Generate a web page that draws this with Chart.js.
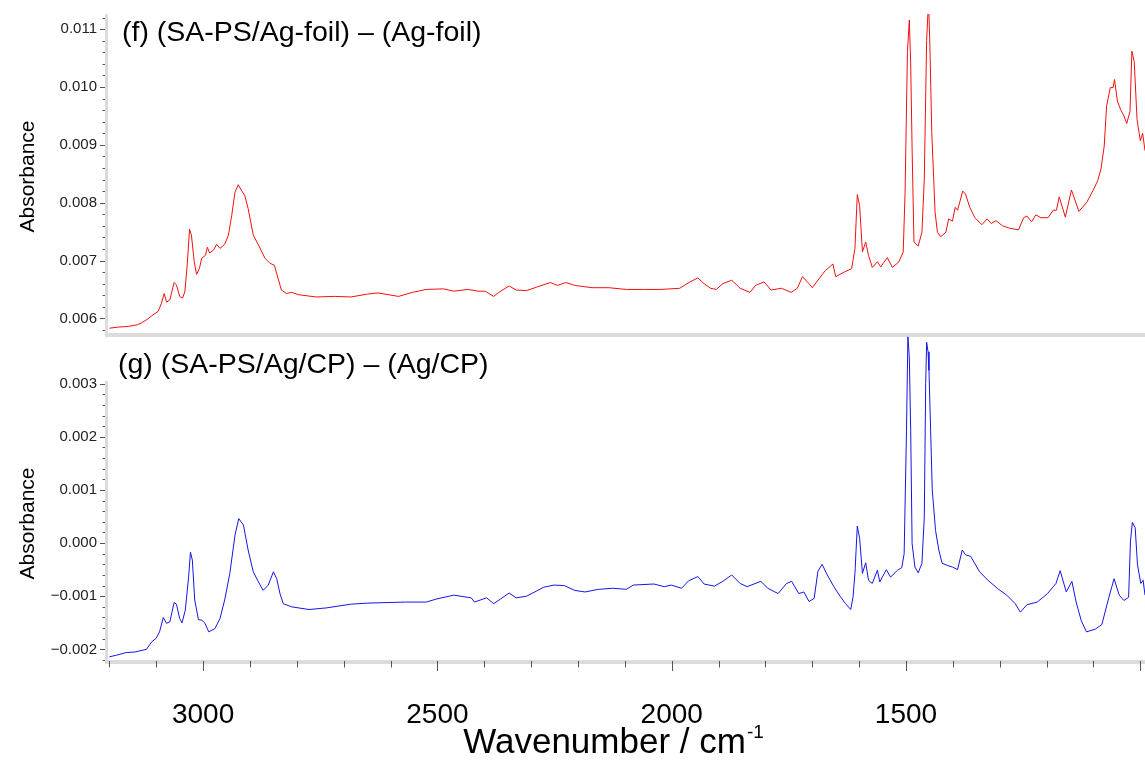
<!DOCTYPE html>
<html><head><meta charset="utf-8">
<script src="https://cdn.jsdelivr.net/npm/chart.js@4.4.1/dist/chart.umd.min.js"></script>
<style>
html,body{margin:0;padding:0;background:#fff;}
#wrap{position:relative;width:1145px;height:764px;overflow:hidden;background:#fff;}
canvas{position:absolute;left:0;}
#cTop{top:0;}
#cBot{top:335px;}
</style></head><body>
<div id="wrap"><canvas id="cTop" width="1145" height="338"></canvas><canvas id="cBot" width="1145" height="429"></canvas></div>
<script>
// ---- data: (f) (SA-PS/Ag-foil) - (Ag-foil)
const wavenumberF = [3200,3180,3160,3140,3132,3120,3107,3096,3089,3083,3078,3071,3062,3057,3050,3044,3039,3034,3029,3025,3019,3014,3008,3003,2995,2991,2986,2978,2971,2964,2954,2946,2939,2932,2925,2918,2911,2904,2893,2882,2868,2857,2848,2840,2833,2822,2811,2797,2759,2720,2685,2649,2627,2583,2553,2524,2487,2465,2435,2413,2398,2380,2369,2347,2332,2310,2288,2259,2244,2226,2207,2170,2134,2097,2060,2023,1983,1961,1944,1931,1917,1905,1891,1872,1854,1833,1821,1803,1788,1766,1745,1732,1721,1707,1700,1685,1673,1656,1650,1632,1616,1609,1604,1599,1593,1586,1580,1572,1561,1554,1540,1529,1515,1506,1502,1497,1493,1490,1487,1483,1474,1466,1461,1456,1452,1449,1445,1438,1433,1426,1415,1409,1401,1395,1390,1379,1373,1364,1353,1338,1327,1318,1308,1294,1279,1260,1249,1242,1232,1223,1212,1197,1186,1179,1173,1160,1147,1131,1114,1101,1091,1084,1077,1072,1064,1058,1055,1049,1042,1035,1029,1022,1018,1013,1007,1000,995,990];
const absorbanceF = [0.00583,0.00585,0.00586,0.00589,0.00592,0.00598,0.00606,0.00612,0.00626,0.00643,0.00628,0.00632,0.00662,0.00658,0.00638,0.00635,0.00646,0.00692,0.00754,0.00744,0.00698,0.00676,0.00686,0.00704,0.00709,0.00723,0.00713,0.00718,0.00728,0.00721,0.00728,0.00744,0.00778,0.00818,0.00831,0.00821,0.00812,0.0079,0.00744,0.00727,0.00704,0.00695,0.00692,0.00669,0.00649,0.00643,0.00645,0.00641,0.00637,0.00638,0.00637,0.00642,0.00644,0.00638,0.00645,0.0065,0.00651,0.00647,0.0065,0.00647,0.00647,0.00638,0.00645,0.00656,0.00649,0.00648,0.00654,0.00662,0.00657,0.00662,0.00657,0.00653,0.00653,0.0065,0.0065,0.0065,0.00652,0.00663,0.0067,0.0066,0.00652,0.0065,0.0066,0.00666,0.00652,0.00645,0.00657,0.00663,0.00649,0.00652,0.00645,0.00652,0.00672,0.0066,0.00653,0.00669,0.00682,0.00694,0.00672,0.0068,0.00686,0.00721,0.00814,0.00795,0.00715,0.00732,0.00709,0.00688,0.00698,0.00689,0.00705,0.00688,0.00698,0.00715,0.00818,0.0106,0.01116,0.0104,0.00893,0.00732,0.00725,0.00749,0.00841,0.0108,0.0115,0.0107,0.00921,0.00784,0.00749,0.00741,0.00749,0.00772,0.00768,0.00792,0.00787,0.0082,0.00815,0.00792,0.00774,0.00762,0.00772,0.00764,0.00769,0.0076,0.00756,0.00753,0.00774,0.00777,0.00767,0.00779,0.00774,0.00774,0.00787,0.00787,0.0081,0.00775,0.00822,0.00785,0.00801,0.00821,0.00838,0.00858,0.00898,0.00967,0.00999,0.00999,0.01013,0.00976,0.00961,0.0095,0.00937,0.00958,0.01062,0.01044,0.00944,0.00907,0.0092,0.0089];
// ---- data: (g) (SA-PS/Ag/CP) - (Ag/CP)
const wavenumberG = [3200,3185,3164,3146,3121,3110,3100,3093,3085,3078,3071,3062,3057,3050,3045,3038,3031,3027,3023,3018,3010,3003,2996,2988,2975,2964,2954,2943,2932,2924,2914,2904,2893,2882,2872,2861,2850,2843,2836,2829,2811,2774,2737,2685,2649,2612,2568,2524,2501,2465,2428,2421,2395,2380,2365,2347,2332,2310,2288,2273,2251,2229,2207,2185,2156,2126,2097,2082,2038,2016,2001,1979,1964,1944,1931,1909,1891,1872,1854,1839,1810,1795,1773,1755,1744,1729,1718,1707,1696,1688,1679,1668,1654,1640,1629,1618,1613,1609,1604,1599,1593,1586,1580,1572,1561,1556,1542,1533,1518,1509,1504,1499,1496,1493,1490,1487,1481,1474,1466,1461,1458,1456,1453,1451,1444,1437,1430,1423,1412,1401,1390,1380,1373,1362,1343,1325,1304,1285,1267,1256,1242,1220,1198,1180,1171,1158,1146,1137,1126,1115,1096,1082,1067,1056,1045,1035,1025,1021,1017,1011,1006,999,994,990];
const absorbanceG = [-0.00214,-0.00211,-0.00206,-0.00205,-0.002,-0.00186,-0.00179,-0.00167,-0.0014,-0.00151,-0.00148,-0.00112,-0.00115,-0.00142,-0.0015,-0.00126,-0.00064,-0.00017,-0.00032,-0.00107,-0.00144,-0.00145,-0.00151,-0.00167,-0.00161,-0.00142,-0.00107,-0.00057,0.00015,0.00046,0.00034,-0.00013,-0.00054,-0.00073,-0.00089,-0.00079,-0.00054,-0.00067,-0.00095,-0.00114,-0.0012,-0.00125,-0.00122,-0.00115,-0.00113,-0.00112,-0.00111,-0.00111,-0.00105,-0.00098,-0.00103,-0.00111,-0.00103,-0.00114,-0.00105,-0.00094,-0.00103,-0.001,-0.0009,-0.00083,-0.00079,-0.0008,-0.00089,-0.00092,-0.00087,-0.00085,-0.00087,-0.00079,-0.00077,-0.00082,-0.00079,-0.00085,-0.00071,-0.00063,-0.00077,-0.00081,-0.00072,-0.0006,-0.00076,-0.00082,-0.00072,-0.00085,-0.00095,-0.00076,-0.00072,-0.00095,-0.00092,-0.0011,-0.00104,-0.00053,-0.0004,-0.0006,-0.00082,-0.00101,-0.00114,-0.00125,-0.00101,-0.00057,0.00032,0.00009,-0.00057,-0.00037,-0.0007,-0.00076,-0.00051,-0.00073,-0.0005,-0.00064,-0.00051,-0.00046,-0.0002,0.00212,0.00388,0.0035,0.00212,-0.00001,-0.00045,-0.00056,-0.00038,0.00049,0.003,0.00378,0.0036,0.00325,0.001,0.00024,-0.00013,-0.00038,-0.00042,-0.00045,-0.0005,-0.00013,-0.00022,-0.00025,-0.00054,-0.0007,-0.00086,-0.00098,-0.00114,-0.0013,-0.00116,-0.00111,-0.00095,-0.00076,-0.00052,-0.00092,-0.00072,-0.00111,-0.00146,-0.00167,-0.00162,-0.00153,-0.00102,-0.00067,-0.00098,-0.00108,-0.00102,0.00004,0.00039,0.00029,-0.00041,-0.00076,-0.0007,-0.00098];

const xTickValues = [1500, 2000, 2500, 3000];
const yTickValuesF = [0.006, 0.007, 0.008, 0.009, 0.010, 0.011];
const yTickValuesG = [-0.002, -0.001, 0.000, 0.001, 0.002, 0.003];
const titleF = '(f) (SA-PS/Ag-foil) – (Ag-foil)';
const titleG = '(g) (SA-PS/Ag/CP) – (Ag/CP)';
const yAxisTitle = 'Absorbance';
const xAxisTitle = 'Wavenumber / cm';
const xAxisTitleSup = '-1';

const FONT = '"Liberation Sans", Arial, Helvetica, sans-serif';
Chart.defaults.font.family = FONT;

const decor = {
  id: 'decor',
  afterDraw(chart, args, o) {
    const {ctx, chartArea: a, scales} = chart;
    const xs = scales.x, ys = scales.y;
    ctx.save();
    ctx.fillStyle = '#dcdcdc';
    ctx.fillRect(a.left - 3, a.top, 3, a.bottom - a.top + 4);
    ctx.fillRect(a.left - 3, a.bottom, a.right - a.left + 3, 4);
    ctx.strokeStyle = '#555';
    ctx.lineWidth = 1;
    const k0 = Math.ceil(ys.min / o.yMinor - 1e-6), k1 = Math.floor(ys.max / o.yMinor + 1e-6);
    for (let k = k0; k <= k1; k++) {
      const v = k * o.yMinor;
      const r = v / o.yMajor;
      const major = Math.abs(r - Math.round(r)) < 1e-6;
      const py = Math.round(ys.getPixelForValue(v)) + 0.5;
      const len = major ? 5 : 2.5;
      ctx.beginPath();
      ctx.moveTo(a.left - 3 - len, py);
      ctx.lineTo(a.left - 3, py);
      ctx.stroke();
    }
    if (o.xTicks) {
      const j0 = Math.ceil(xs.min / o.xMinor), j1 = Math.floor(xs.max / o.xMinor);
      for (let j = j0; j <= j1; j++) {
        const v = j * o.xMinor;
        const major = v % o.xMajor === 0;
        const px = Math.round(xs.getPixelForValue(v)) + 0.5;
        const len = major ? 7 : 3.5;
        ctx.beginPath();
        ctx.moveTo(px, a.bottom + 1);
        ctx.lineTo(px, a.bottom + 4 + len);
        ctx.stroke();
      }
      ctx.fillStyle = '#000';
      ctx.textBaseline = 'alphabetic';
      ctx.textAlign = 'left';
      ctx.font = '35px ' + FONT;
      const w1 = ctx.measureText(xAxisTitle).width;
      ctx.font = '19px ' + FONT;
      const w2 = ctx.measureText(xAxisTitleSup).width;
      const sx = o.xTitleX - (w1 + w2) / 2;
      ctx.font = '35px ' + FONT;
      ctx.fillText(xAxisTitle, sx, o.xTitleY);
      ctx.font = '19px ' + FONT;
      ctx.fillText(xAxisTitleSup, sx + w1 + 1, o.xTitleY - 15);
    }
    ctx.fillStyle = '#000';
    ctx.textAlign = 'left';
    ctx.textBaseline = 'middle';
    ctx.font = '28.5px ' + FONT;
    ctx.fillText(o.title, o.tx, o.ty);
    ctx.save();
    ctx.translate(28, (a.top + a.bottom) / 2 + 3);
    ctx.rotate(-Math.PI / 2);
    ctx.textAlign = 'center';
    ctx.textBaseline = 'middle';
    ctx.font = '21px ' + FONT;
    ctx.fillText(yAxisTitle, 0, 0);
    ctx.restore();
    ctx.restore();
  }
};

function yTickLabel(v) {
  const s = Math.abs(v).toFixed(3);
  return (v < -1e-9 ? '\u2212' : '') + s;
}

function makeChart(id, wn, ab, color, yMin, yMax, yTicks, showX, padTop, title, ty, tx, clip) {
  return new Chart(document.getElementById(id), {
    type: 'line',
    data: {
      datasets: [{
        data: wn.map((w, i) => ({x: w, y: ab[i]})),
        borderColor: color,
        borderWidth: 1,
        pointRadius: 0,
        tension: 0,
        fill: false,
        clip: clip
      }]
    },
    options: {
      responsive: false,
      animation: false,
      events: [],
      layout: {padding: {top: padTop, left: 0, right: 0, bottom: showX ? 0 : 5}},
      plugins: {
        legend: {display: false},
        tooltip: {enabled: false},
        decor: {yMinor: 0.0002, yMajor: 0.001, xMinor: 100, xMajor: 500, xTicks: showX,
                title: title, tx: tx, ty: ty, xTitleX: 613, xTitleY: 418}
      },
      scales: {
        x: {
          type: 'linear',
          reverse: true,
          min: 990,
          max: 3203,
          display: showX,
          afterBuildTicks: s => { s.ticks = xTickValues.map(v => ({value: v})); },
          afterFit: s => { s.height = showX ? 104 : 0; s.paddingLeft = 0; s.paddingRight = 0; },
          grid: {display: false},
          border: {display: false},
          ticks: {
            autoSkip: false, maxRotation: 0, padding: 30,
            color: '#000', font: {size: 28},
            callback: v => String(v)
          }
        },
        y: {
          type: 'linear',
          min: yMin,
          max: yMax,
          afterBuildTicks: s => { s.ticks = yTicks.map(v => ({value: v})); },
          afterFit: s => { s.width = 108; s.paddingTop = 0; s.paddingBottom = 0; },
          grid: {display: false},
          border: {display: false},
          ticks: {
            padding: 3, color: '#222', font: {size: 15},
            callback: v => yTickLabel(v)
          }
        }
      }
    },
    plugins: [decor]
  });
}

makeChart('cTop', wavenumberF, absorbanceF, '#f01010', 0.005747, 0.011263, yTickValuesF, false, 14, titleF, 33, 122, true);
makeChart('cBot', wavenumberG, absorbanceG, '#1515e6', -0.0022, 0.00305, yTickValuesG, true, 46, titleG, 30, 118, false);
</script>
</body></html>
